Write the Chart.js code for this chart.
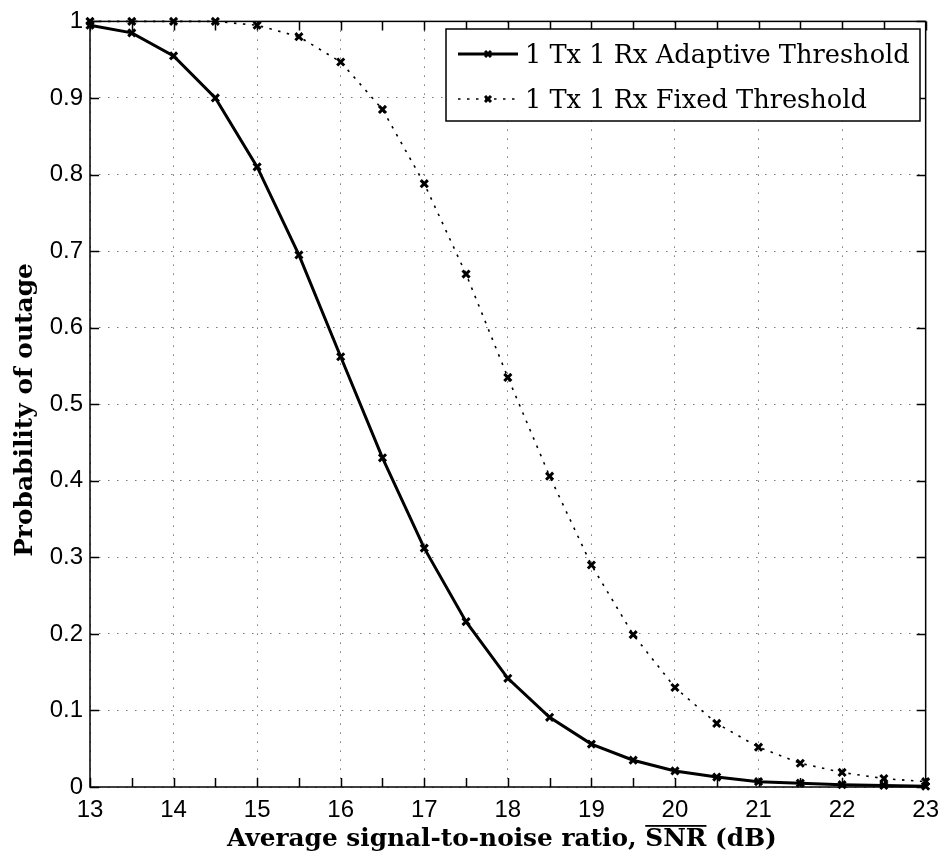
<!DOCTYPE html>
<html>
<head>
<meta charset="utf-8">
<script src="https://cdn.jsdelivr.net/npm/chart.js@4.4.0/dist/chart.umd.min.js"></script>
<style>
  html, body { margin: 0; padding: 0; background: #fff; }
</style>
</head>
<body>
<canvas id="chart" width="948" height="860"></canvas>
<script>
// datos
const snr = [13, 13.5, 14, 14.5, 15, 15.5, 16, 16.5, 17, 17.5, 18, 18.5, 19, 19.5, 20, 20.5, 21, 21.5, 22, 22.5, 23];
const adaptive = [0.995, 0.985, 0.955, 0.900, 0.810, 0.695, 0.562, 0.430, 0.312, 0.216, 0.142, 0.091, 0.056, 0.035, 0.021, 0.013, 0.007, 0.005, 0.003, 0.002, 0.001];
const fixed = [1.000, 1.000, 1.000, 1.000, 0.995, 0.980, 0.947, 0.885, 0.788, 0.670, 0.535, 0.406, 0.290, 0.199, 0.130, 0.083, 0.052, 0.031, 0.019, 0.011, 0.007];
const xTicks = [13, 14, 15, 16, 17, 18, 19, 20, 21, 22, 23];
const yTicks = [0, 0.1, 0.2, 0.3, 0.4, 0.5, 0.6, 0.7, 0.8, 0.9, 1];
const seriesNames = ['1 Tx 1 Rx Adaptive Threshold', '1 Tx 1 Rx Fixed Threshold'];
const xTitleParts = ['Average signal-to-noise ratio, ', 'SNR', ' (dB)'];
const yTitleText = 'Probability of outage';

const serif = '"DejaVu Serif", "Liberation Serif", serif';
const sans = '"Liberation Sans", Arial, sans-serif';

const toXY = (ys) => snr.map((x, i) => ({ x: x, y: ys[i] }));

// tamano de letra para que el texto ocupe el ancho deseado
function fitSize(ctx, text, weight, width) {
    ctx.font = weight + ' 100px ' + serif;
    return 100 * width / ctx.measureText(text).width;
}

// marco y marcas hacia dentro (estilo MATLAB)
const frameTicks = {
    id: 'frameTicks',
    afterDatasetsDraw(chart) {
        const { ctx, chartArea: a, scales } = chart;
        ctx.save();
        ctx.strokeStyle = '#000';
        ctx.lineWidth = 1.5;
        ctx.beginPath();
        const len = 9;
        for (let v = 13; v <= 23.001; v += 0.5) {
            const px = Math.round(scales.x.getPixelForValue(v)) + 0.5;
            ctx.moveTo(px, a.bottom); ctx.lineTo(px, a.bottom - len);
            ctx.moveTo(px, a.top); ctx.lineTo(px, a.top + len);
        }
        yTicks.forEach(v => {
            const py = Math.round(scales.y.getPixelForValue(v)) + 0.5;
            ctx.moveTo(a.left, py); ctx.lineTo(a.left + len, py);
            ctx.moveTo(a.right, py); ctx.lineTo(a.right - len, py);
        });
        ctx.stroke();
        ctx.strokeRect(a.left, a.top, a.right - a.left, a.bottom - a.top);
        ctx.restore();
    }
};

// leyenda dentro del area del grafico
const boxLegend = {
    id: 'boxLegend',
    afterDraw(chart) {
        const { ctx } = chart;
        const x0 = 446, y0 = 29, w = 474, h = 92;
        ctx.save();
        ctx.fillStyle = '#fff';
        ctx.fillRect(x0, y0, w, h);
        ctx.strokeStyle = '#000';
        ctx.lineWidth = 1.5;
        ctx.strokeRect(x0, y0, w, h);
        const size = fitSize(ctx, seriesNames[0], 'normal', 385);
        const rows = [54, 99];
        chart.data.datasets.forEach((ds, i) => {
            const y = rows[i];
            ctx.strokeStyle = ds.borderColor;
            ctx.lineWidth = ds.borderWidth;
            ctx.setLineDash(ds.borderDash || []);
            ctx.beginPath();
            ctx.moveTo(458, y); ctx.lineTo(518, y);
            ctx.stroke();
            ctx.setLineDash([]);
            ctx.lineWidth = 3;
            ctx.beginPath();
            ctx.moveTo(485, y - 3); ctx.lineTo(491, y + 3);
            ctx.moveTo(485, y + 3); ctx.lineTo(491, y - 3);
            ctx.stroke();
            ctx.fillStyle = '#000';
            ctx.font = 'normal ' + size + 'px ' + serif;
            ctx.textBaseline = 'alphabetic';
            ctx.fillText(ds.label, 525, y + 9);
        });
        ctx.restore();
    }
};

// titulos de los ejes (x con SNR sobrerrayado)
const axisTitles = {
    id: 'axisTitles',
    afterDraw(chart) {
        const { ctx } = chart;
        ctx.save();
        ctx.fillStyle = '#000';
        ctx.textBaseline = 'alphabetic';
        const xs = fitSize(ctx, xTitleParts.join(''), 'bold', 550);
        ctx.font = 'bold ' + xs + 'px ' + serif;
        const widths = xTitleParts.map(p => ctx.measureText(p).width);
        let x = 227;
        const y = 846;
        xTitleParts.forEach((p, i) => {
            ctx.fillText(p, x, y);
            if (i === 1) ctx.fillRect(x, y - 21, widths[i], 1.8);
            x += widths[i];
        });

        const ys = fitSize(ctx, yTitleText, 'bold', 294);
        ctx.font = 'bold ' + ys + 'px ' + serif;
        ctx.translate(32, 410);
        ctx.rotate(-Math.PI / 2);
        ctx.textAlign = 'center';
        ctx.fillText(yTitleText, 0, 0);
        ctx.restore();
    }
};

const ctx = document.getElementById('chart').getContext('2d');
const chart = new Chart(ctx, {
    type: 'line',
    data: {
        datasets: [{
            label: seriesNames[0],
            data: toXY(adaptive),
            borderColor: '#000',
            backgroundColor: '#000',
            borderWidth: 3,
            pointStyle: 'crossRot',
            pointRadius: 5,
            pointBorderWidth: 3,
            tension: 0,
            fill: false,
            clip: 10
        }, {
            label: seriesNames[1],
            data: toXY(fixed),
            borderColor: '#000',
            backgroundColor: '#000',
            borderWidth: 1.6,
            borderDash: [2.5, 6.5],
            pointStyle: 'crossRot',
            pointRadius: 5,
            pointBorderWidth: 3,
            tension: 0,
            fill: false,
            clip: 10
        }]
    },
    options: {
        responsive: false,
        animation: false,
        devicePixelRatio: 1,
        layout: { padding: { top: 17, right: 19, left: 0, bottom: 0 } },
        plugins: {
            legend: { display: false },
            tooltip: { enabled: false }
        },
        scales: {
            x: {
                type: 'linear',
                min: 13,
                max: 23,
                afterBuildTicks: (s) => { s.ticks = xTicks.map(v => ({ value: v })); },
                afterFit: (s) => { s.height = 73; },
                ticks: {
                    font: { family: sans, size: 24 },
                    color: '#000',
                    padding: 9,
                    maxRotation: 0
                },
                grid: { color: '#777', lineWidth: 1, drawTicks: false },
                border: { display: false, dash: [1.5, 7.5] }
            },
            y: {
                min: 0,
                max: 1,
                afterBuildTicks: (s) => { s.ticks = yTicks.map(v => ({ value: v })); },
                afterFit: (s) => { s.width = 90; },
                ticks: {
                    font: { family: sans, size: 24 },
                    color: '#000',
                    padding: 7,
                    callback: (v) => String(v)
                },
                grid: { color: '#777', lineWidth: 1, drawTicks: false },
                border: { display: false, dash: [1.5, 7.5] }
            }
        }
    },
    plugins: [frameTicks, boxLegend, axisTitles]
});
</script>
</body>
</html>
